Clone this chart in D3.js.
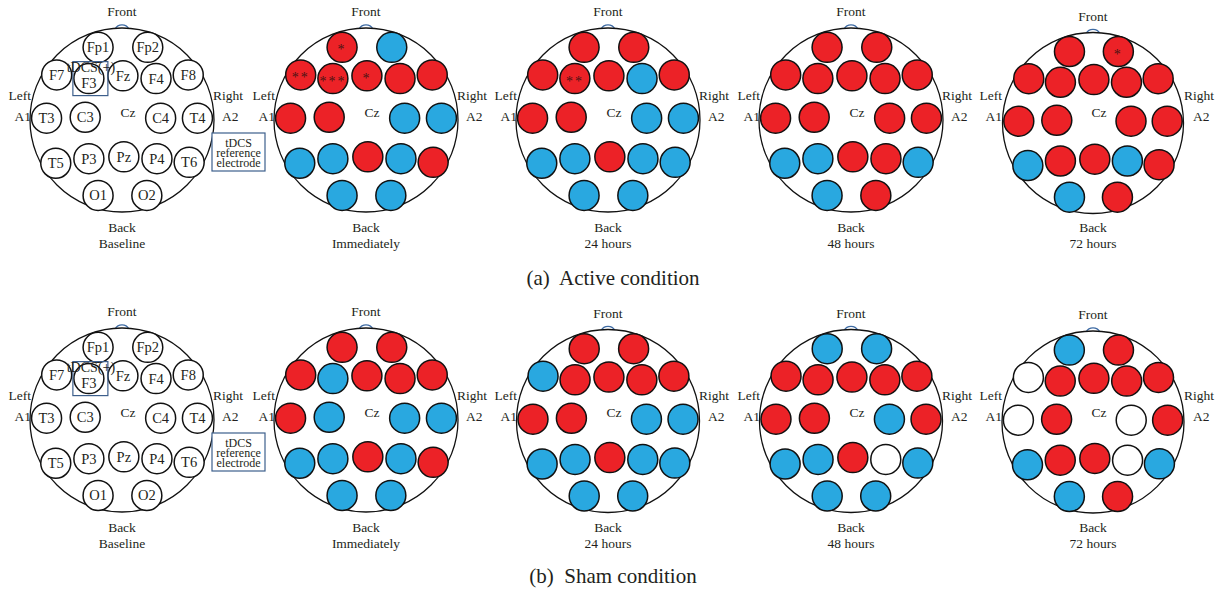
<!DOCTYPE html>
<html>
<head>
<meta charset="utf-8">
<script src="https://cdn.jsdelivr.net/npm/d3@7"></script>
<style>
  html, body { margin: 0; padding: 0; background: #fff; }
  svg text { font-family: "Liberation Serif", "DejaVu Serif", serif; fill: #231f20; }
</style>
</head>
<body>
<svg id="canvas" width="1215" height="589"></svg>
<script>
// 10-20 electrodes, same order in every status array below
const electrodes = ["Fp1","Fp2","F7","F3","Fz","F4","F8","T3","C3","C4","T4","T5","P3","Pz","P4","T6","O1","O2"];
// montage coordinates (head radius = 1)
const montageX = [-0.26, 0.28, -0.71, -0.36, 0.01, 0.37, 0.72, -0.82, -0.40, 0.42, 0.82, -0.72, -0.36, 0.02, 0.38, 0.73, -0.26, 0.27];
const montageY = [-0.79, -0.79, -0.49, -0.45, -0.48, -0.45, -0.49, -0.02, -0.03, -0.02, -0.02, 0.47, 0.42, 0.40, 0.42, 0.46, 0.82, 0.82];

const timeLabels = ["Baseline", "Immediately", "24 hours", "48 hours", "72 hours"];
const conditionLabels = ["(a)  Active condition", "(b)  Sham condition"];

// r = increase (red), b = decrease (blue), n = no change (white)
const activeImmediately = ["r","b","r","r","r","r","r","r","r","b","b","b","b","r","b","r","b","b"];
const active24h         = ["r","r","r","r","r","b","r","r","r","b","b","b","b","r","b","b","b","b"];
const active48h         = ["r","r","r","r","r","r","r","r","r","r","r","b","b","r","r","b","b","r"];
const active72h         = ["r","r","r","r","r","r","r","r","r","r","r","b","r","r","b","r","b","r"];
const shamImmediately   = ["r","r","r","b","r","r","r","r","b","b","b","b","b","r","b","r","b","b"];
const sham24h           = ["r","r","b","r","r","r","r","r","r","b","b","b","b","r","b","b","b","b"];
const sham48h           = ["b","b","r","r","r","r","r","r","r","b","r","b","b","r","n","b","b","b"];
const sham72h           = ["b","r","n","r","r","r","r","n","r","n","r","b","r","r","n","b","b","r"];

// significance marks
const starsActiveImmediately = ["*","","**","***","*","","","","","","","","","","","","",""];
const starsActive24h         = ["","","","**","","","","","","","","","","","","","",""];
const starsActive72h         = ["","*","","","","","","","","","","","","","","","",""];
const noStars = electrodes.map(() => "");

const rows = [
  { label: conditionLabels[0], panels: [null, activeImmediately, active24h, active48h, active72h],
    stars: [noStars, starsActiveImmediately, starsActive24h, noStars, starsActive72h] },
  { label: conditionLabels[1], panels: [null, shamImmediately, sham24h, sham48h, sham72h],
    stars: [noStars, noStars, noStars, noStars, noStars] }
];

// ── layout ──
const svg = d3.select("#canvas");
const R = 92;              // head radius
const ER = 15;             // electrode radius
const panelCx = [122, 366, 608, 851, 1093];
const rowCy = [120, 420];
const panelDy = [[0, 0, 0, 0, 3], [0, 0, 1, 1, 2]];
const captionY = [285, 583];

const color = d3.scaleOrdinal().domain(["r", "b", "n"]).range(["#ec2227", "#29a8e0", "#ffffff"]);

rows.forEach((row, ri) => {
  row.panels.forEach((status, pi) => {
    const cx = panelCx[pi];
    const cy0 = rowCy[ri];
    const dy = panelDy[ri][pi];
    const cy = cy0 + dy;
    const r = R - dy / 2;
    const x = d3.scaleLinear().domain([-1, 1]).range([cx - r, cx + r]);
    const y = d3.scaleLinear().domain([-1, 1]).range([cy - r, cy + r]);
    const g = svg.append("g");

    // nose
    g.append("path")
      .attr("d", `M${cx - 7},${cy - r + 1} A8,8 0 0 1 ${cx + 7},${cy - r + 1}`)
      .attr("fill", "none").attr("stroke", "#3d6aa3").attr("stroke-width", 1.2);

    g.append("circle")
      .attr("cx", cx).attr("cy", cy).attr("r", r)
      .attr("fill", "#fff").attr("stroke", "#111").attr("stroke-width", 1.3);

    const lab = (tx, ty, t, anchor = "middle", size = 13.5) => g.append("text")
      .attr("x", tx).attr("y", ty).attr("text-anchor", anchor)
      .style("font-size", size + "px").text(t);

    lab(cx, cy - r - 12, "Front");
    lab(cx, cy0 + 112, "Back");
    lab(cx, cy0 + 128, timeLabels[pi]);
    lab(cx - 91, cy0 - 20, "Left", "end");
    lab(cx - 91, cy0 + 1, "A1", "end");
    lab(cx + 91, cy0 - 20, "Right", "start");
    lab(cx + 100, cy0 + 1, "A2", "start");
    lab(cx + 6, cy0 - 3, "Cz");

    const idx = d3.range(electrodes.length);
    g.selectAll("circle.el")
      .data(idx)
      .join("circle")
      .attr("class", "el")
      .attr("cx", i => x(montageX[i]))
      .attr("cy", i => y(montageY[i]))
      .attr("r", ER)
      .attr("fill", i => status ? color(status[i]) : "#fff")
      .attr("stroke", "#111").attr("stroke-width", 1.5);

    if (!status) {
      // baseline: electrode names and tDCS placement
      g.selectAll("text.el")
        .data(idx)
        .join("text")
        .attr("class", "el")
        .attr("x", i => x(montageX[i]))
        .attr("y", i => y(montageY[i]) + (electrodes[i] === "F3" ? 9 : 5))
        .attr("text-anchor", "middle")
        .style("font-size", "14.5px")
        .text(d => electrodes[d]);

      const f3 = electrodes.indexOf("F3");
      g.append("rect")
        .attr("x", x(montageX[f3]) - 16).attr("y", y(montageY[f3]) - 17)
        .attr("width", 35).attr("height", 34)
        .attr("fill", "none").attr("stroke", "#3d5f8c").attr("stroke-width", 1.2);
      lab(x(montageX[f3]) + 2, y(montageY[f3]) - 7, "tDCS(+)", "middle", 14);

      g.append("rect")
        .attr("x", cx + 90).attr("y", cy + 13)
        .attr("width", 53).attr("height", 38)
        .attr("fill", "#fff").attr("stroke", "#3d5f8c").attr("stroke-width", 1.2);
      ["tDCS", "reference", "electrode"].forEach((t, k) => {
        g.append("text")
          .attr("x", cx + 116.5).attr("y", cy + 27 + k * 10)
          .attr("text-anchor", "middle")
          .style("font-size", "12px").text(t);
      });
    } else {
      g.selectAll("text.star")
        .data(idx.filter(i => row.stars[pi][i]))
        .join("text")
        .attr("class", "star")
        .attr("x", i => x(montageX[i]))
        .attr("y", i => y(montageY[i]) + 7)
        .attr("text-anchor", "middle")
        .style("font-size", "14px")
        .style("letter-spacing", "2px")
        .style("fill", "#4a1414")
        .text(i => row.stars[pi][i]);
    }
  });

  svg.append("text")
    .attr("x", 613).attr("y", captionY[ri])
    .attr("text-anchor", "middle")
    .style("font-size", "21px")
    .style("white-space", "pre")
    .text(row.label);
});
</script>
</body>
</html>
